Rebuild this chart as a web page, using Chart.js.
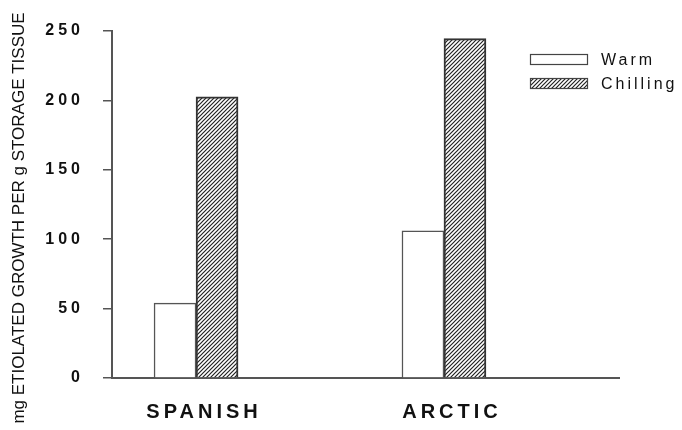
<!DOCTYPE html>
<html>
<head>
<meta charset="utf-8">
<script src="https://cdn.jsdelivr.net/npm/chart.js@4"></script>
<style>
    html, body { margin: 0; padding: 0; background: #fff; }
</style>
</head>
<body>
<canvas id="chart" width="682" height="430"></canvas>
<script>
// DATA
const cultivars = ['SPANISH', 'ARCTIC']
const seriesNames = ['Warm', 'Chilling']
const warmValues = [54, 106]
const chillingValues = [202.5, 244.5]
const yTicks = [0, 50, 100, 150, 200, 250]
const yTitle = 'mg ETIOLATED GROWTH PER g STORAGE TISSUE'

Chart.defaults.font.family = '"Liberation Sans", Arial, sans-serif'
Chart.defaults.color = '#111'

const chartCanvas = document.getElementById('chart')
const chartCtx = chartCanvas.getContext('2d')

// diagonal hatch for the chilling bars
const makeHatch = () => {
    const tile = document.createElement('canvas')
    tile.width = 4
    tile.height = 4
    const c = tile.getContext('2d')
    c.fillStyle = '#fff'
    c.fillRect(0, 0, 4, 4)
    c.strokeStyle = '#222'
    c.lineWidth = 1.2
    c.beginPath()
    c.moveTo(-1, 5); c.lineTo(5, -1)
    c.moveTo(-1, 1); c.lineTo(1, -1)
    c.moveTo(3, 5); c.lineTo(5, 3)
    c.stroke()
    return chartCtx.createPattern(tile, 'repeat')
}
const hatch = makeHatch()

// spaced-out tick labels (ticks z = 1 so they come after the datasets)
const spacingPlugin = {
    id: 'spacing',
    afterDatasetsDraw(chart) { chart.ctx.letterSpacing = '4px' },
    afterDraw(chart) { chart.ctx.letterSpacing = '0px' },
}

// y title, a bit below the middle of the axis like the original
const sideTitle = {
    id: 'sideTitle',
    afterDraw(chart) {
        const ctx = chart.ctx
        ctx.save()
        ctx.letterSpacing = '0px'
        ctx.font = '17px "Liberation Sans", Arial, sans-serif'
        ctx.fillStyle = '#111'
        ctx.textAlign = 'center'
        ctx.textBaseline = 'middle'
        ctx.translate(19, 218)
        ctx.rotate(-Math.PI / 2)
        ctx.fillText(yTitle, 0, 0)
        ctx.restore()
    }
}

// legend in the top right corner, inside the plot
const boxLegend = {
    id: 'boxLegend',
    afterDraw(chart) {
        const ctx = chart.ctx
        ctx.save()
        ctx.letterSpacing = '3px'
        ctx.font = '16px "Liberation Sans", Arial, sans-serif'
        ctx.textBaseline = 'middle'
        chart.data.datasets.forEach((ds, i) => {
            const y = 54 + i * 24
            ctx.fillStyle = ds.backgroundColor
            ctx.fillRect(530, y, 57, 10)
            ctx.strokeStyle = '#444'
            ctx.lineWidth = 1.2
            ctx.strokeRect(530.5, y + 0.5, 57, 10)
            ctx.fillStyle = '#111'
            ctx.fillText(ds.label, 601, y + 7)
        })
        ctx.restore()
    }
}

new Chart(chartCtx, {
    type: 'bar',
    data: {
        datasets: [
            {
                label: seriesNames[0],
                data: warmValues.map((v, i) => ({ x: i, y: v })),
                backgroundColor: '#fff',
                borderColor: '#555',
                borderWidth: 1.5,
                barThickness: 42,
            },
            {
                label: seriesNames[1],
                data: chillingValues.map((v, i) => ({ x: i, y: v })),
                backgroundColor: hatch,
                borderColor: '#333',
                borderWidth: 2,
                barThickness: 42,
            }
        ]
    },
    plugins: [spacingPlugin, sideTitle, boxLegend],
    options: {
        responsive: false,
        animation: false,
        devicePixelRatio: 1,
        layout: {
            padding: { top: 31, right: 63, bottom: 0, left: 0 }
        },
        plugins: {
            legend: { display: false },
            tooltip: { enabled: false },
        },
        scales: {
            x: {
                type: 'linear',
                min: -0.339,
                max: 1.706,
                offset: false,
                afterBuildTicks: (scale) => {
                    scale.ticks = cultivars.map((c, i) => ({ value: i }))
                },
                afterFit: (scale) => { scale.height = 52 },
                grid: { display: false },
                border: { display: true, color: '#555', width: 2 },
                ticks: {
                    callback: (v) => cultivars[v],
                    autoSkip: false,
                    maxRotation: 0,
                    padding: 14,
                    labelOffset: 8,
                    z: 1,
                    font: { size: 20, weight: 'bold' },
                }
            },
            y: {
                min: 0,
                max: 250,
                afterBuildTicks: (scale) => {
                    scale.ticks = yTicks.map(v => ({ value: v }))
                },
                afterFit: (scale) => { scale.width = 112 },
                grid: {
                    drawOnChartArea: false,
                    drawTicks: true,
                    tickLength: 9,
                    color: '#555',
                    lineWidth: 1.5,
                },
                border: { display: true, color: '#555', width: 2 },
                ticks: {
                    padding: 19,
                    z: 1,
                    font: { size: 16, weight: 'bold' },
                },
            }
        }
    }
})
</script>
</body>
</html>
